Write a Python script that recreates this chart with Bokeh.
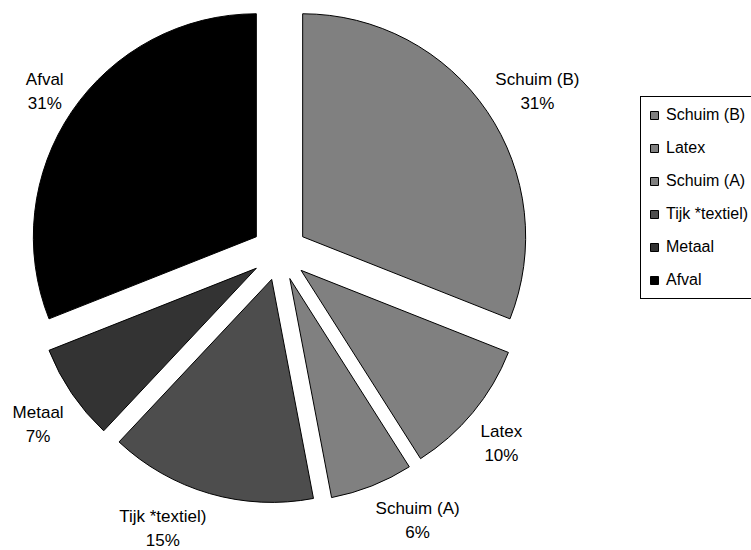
import math
from bokeh.plotting import figure
from bokeh.models import ColumnDataSource, Range1d, Legend, LegendItem
from bokeh.core.properties import value
from bokeh.embed import file_html
from bokeh.resources import INLINE

# ---- data ----
categories = ["Schuim (B)", "Latex", "Schuim (A)", "Tijk *textiel)", "Metaal", "Afval"]
values = [31, 10, 6, 15, 7, 31]
colors = ["#808080", "#808080", "#808080", "#4d4d4d", "#333333", "#000000"]

# ---- layout constants ----
W, H = 751, 550
CX, CY = 279, H - 252      # pie centre (data units == pixels)
R = 223                    # radius
EXPLODE = 28               # radial explosion of each slice
LABEL_R = 261              # distance of label anchor from centre
FONT = "Liberation Sans"
LABEL_PX = 17
LINE_GAP = 24
OFF_UP = 14                # vertical offset of label block centre (upper labels)
OFF_DOWN = 25              # vertical offset of label block centre (lower labels)

# rough Arial advance widths (per 1000 em) for label box estimates
AW = {"S": 667, "c": 500, "h": 556, "u": 556, "i": 222, "m": 833, "(": 333, "B": 667,
      ")": 333, "L": 556, "a": 556, "t": 278, "e": 556, "x": 500, "A": 667, "T": 611,
      "j": 222, "k": 500, "*": 389, "l": 222, "M": 833, "f": 278, "v": 500, "%": 889,
      " ": 278}


def text_width(s, px):
    return sum(AW.get(ch, 556) for ch in s) / 1000.0 * px


def sgn(a):
    return 1.0 if a >= 0 else -1.0


total = float(sum(values))
xs, ys, starts, ends = [], [], [], []
lx, ly_name, ly_pct, names, pcts = [], [], [], [], []
acc = 0.0
for cat, v in zip(categories, values):
    t0 = acc / total * 2 * math.pi          # clockwise from 12 o'clock
    t1 = (acc + v) / total * 2 * math.pi
    acc += v
    tm = (t0 + t1) / 2
    dx, dy = math.sin(tm), math.cos(tm)
    xs.append(CX + EXPLODE * dx)
    ys.append(CY + EXPLODE * dy)
    starts.append(math.pi / 2 - t1)
    ends.append(math.pi / 2 - t0)
    pct = f"{round(v / total * 100)}%"
    w = max(text_width(cat, LABEL_PX), text_width(pct, LABEL_PX))
    cx = CX + LABEL_R * dx + sgn(dx) * w / 2
    cy = CY + LABEL_R * dy + (OFF_UP if dy >= 0 else -OFF_DOWN)
    lx.append(cx)
    ly_name.append(cy + LINE_GAP / 2)
    ly_pct.append(cy - LINE_GAP / 2)
    names.append(cat)
    pcts.append(pct)

src = ColumnDataSource(dict(x=xs, y=ys, start=starts, end=ends, color=colors, cat=categories))
lab = ColumnDataSource(dict(x=lx, yn=ly_name, yp=ly_pct, name=names, pct=pcts))

p = figure(width=W, height=H, output_backend="svg", toolbar_location=None,
           x_axis_type=None, y_axis_type=None, min_border=0,
           x_range=Range1d(0, W), y_range=Range1d(0, H))
p.outline_line_color = None
p.background_fill_color = "white"
p.border_fill_color = "white"

r = p.wedge(x="x", y="y", radius=R, start_angle="start", end_angle="end",
            fill_color="color", line_color="black", line_width=1, source=src)

for col in ("yn", "yp"):
    p.text(x="x", y=col, text="name" if col == "yn" else "pct", source=lab,
           text_font=value(FONT), text_font_size=f"{LABEL_PX}px",
           text_align="center", text_baseline="middle", text_color="black")

items = [LegendItem(label=c, renderers=[r], index=i) for i, c in enumerate(categories)]
legend = Legend(items=items, location=(640, 251), orientation="vertical",
                glyph_width=10, glyph_height=10, label_height=20, spacing=13,
                padding=8, label_standoff=7, margin=0,
                label_text_font=FONT, label_text_font_size="16px",
                label_text_color="black",
                border_line_color="black", border_line_alpha=1, border_line_width=1,
                background_fill_color="white", background_fill_alpha=1)
p.add_layout(legend)

open("out.html", "w").write(file_html(p, INLINE))
